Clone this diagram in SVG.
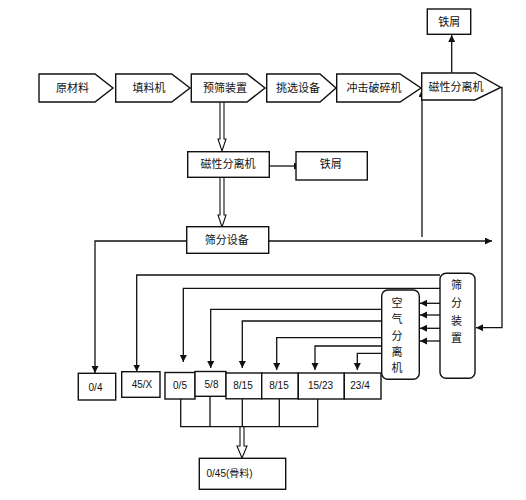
<svg xmlns="http://www.w3.org/2000/svg" width="526" height="500" viewBox="0 0 526 500">
<style>
.n{fill:#fff;stroke:#111;stroke-width:1.4}
.t{font-family:"Noto Sans CJK SC","Liberation Sans",sans-serif;font-size:11px;fill:#111;text-anchor:middle}
.d{font-family:"Liberation Sans","DejaVu Sans",sans-serif;font-size:10px;fill:#111;text-anchor:middle}
.c{fill:none;stroke:#111;stroke-width:1.3}
.h{fill:#fff;stroke:#111;stroke-width:1.1}
</style>
<defs>
<marker id="a" markerUnits="userSpaceOnUse" markerWidth="8" markerHeight="8" refX="7" refY="3.5" orient="auto"><path d="M0,0 L7,3.5 L0,7 z" fill="#111"/></marker>
</defs>
<rect width="526" height="500" fill="#fff"/>
<g id="connectors">
<path class="h" d="M220,102 V139 L218,139 L222,151 L226,139 L224,139 V102"/>
<path class="h" d="M220,177.5 V215 L218,215 L222,227 L226,215 L224,215 V177.5"/>
<path class="h" d="M240,427 V446 L237,446 L242,458 L247,446 L244,446 V427"/>
<path class="c" d="M269.3,166 H301" marker-end="url(#a)"/>
<path class="c" d="M451.7,72.7 V35" marker-end="url(#a)"/>
<path class="c" d="M422,237 V90" marker-end="url(#a)"/>
<path class="c" d="M268.7,241 H492" marker-end="url(#a)"/>
<path class="c" d="M186.7,241 H95 V373" marker-end="url(#a)"/>
<path class="c" d="M500.7,87.5 H502 V327.7 H476" marker-end="url(#a)"/>
<path class="c" d="M440,275 H136.7 V371.5" marker-end="url(#a)"/>
<path class="c" d="M440,288.3 H183.3 V362" marker-end="url(#a)"/>
<path class="c" d="M381.7,309.3 H210.7 V368" marker-end="url(#a)"/>
<path class="c" d="M381.7,321 H242.3 V368" marker-end="url(#a)"/>
<path class="c" d="M381.7,337.7 H276.7 V370" marker-end="url(#a)"/>
<path class="c" d="M381.7,346 H315 V370" marker-end="url(#a)"/>
<path class="c" d="M381.7,353.3 H357.3 V370" marker-end="url(#a)"/>
<path class="c" d="M440,303.3 H420" marker-end="url(#a)"/>
<path class="c" d="M440,315 H420" marker-end="url(#a)"/>
<path class="c" d="M440,328.3 H420" marker-end="url(#a)"/>
<path class="c" d="M440,341 H420" marker-end="url(#a)"/>
<path class="c" d="M180.7,399 V426.7 H317.7 V399 M210,396 V426.7 M242.3,398.5 V426.7 M279.3,398.5 V426.7"/>
</g>
<g id="n1"><polygon class="n" points="39,74 95,74 113,88 95,102 39,102"/><text class="t" x="72.5" y="92">原材料</text></g>
<g id="n2"><polygon class="n" points="115.7,74 171.7,74 190,88 171.7,102 115.7,102"/><text class="t" x="149" y="92">填料机</text></g>
<g id="n3"><polygon class="n" points="191.3,74 247,74 265,88 247,102 191.3,102"/><text class="t" x="225" y="92">预筛装置</text></g>
<g id="n4"><polygon class="n" points="266.7,74 320,74 336,88 320,102 266.7,102"/><text class="t" x="298" y="92">挑选设备</text></g>
<g id="n5"><polygon class="n" points="336.7,74 400,74 421,88 400,102 336.7,102"/><text class="t" x="374" y="92">冲击破碎机</text></g>
<g id="n6"><polygon class="n" points="421.7,73 475,73 500.7,87.5 475,100 421.7,100"/><text class="t" x="456" y="91">磁性分离机</text></g>
<g id="n7"><rect class="n" x="427.3" y="9" width="43.4" height="25.3"/><text class="t" x="449.3" y="26">铁屑</text></g>
<g id="n8"><rect class="n" x="187.7" y="151.7" width="81.6" height="25.6"/><text class="t" x="228" y="168">磁性分离机</text></g>
<g id="n9"><rect class="n" x="296" y="151.7" width="71.3" height="28.3"/><text class="t" x="330.7" y="168">铁屑</text></g>
<g id="n10"><rect class="n" x="186.7" y="226.7" width="82" height="26.6"/><text class="t" x="226.7" y="244">筛分设备</text></g>
<g id="n11"><rect class="n" x="440" y="273.3" width="35" height="105" rx="6"/><text class="t"><tspan x="456.5" y="289">筛</tspan><tspan x="456.5" y="307">分</tspan><tspan x="456.5" y="325">装</tspan><tspan x="456.5" y="342">置</tspan></text></g>
<g id="n12"><rect class="n" x="381.7" y="290" width="37.6" height="89.3" rx="6"/><text class="t"><tspan x="397" y="307">空</tspan><tspan x="397" y="323">气</tspan><tspan x="397" y="340">分</tspan><tspan x="397" y="356">离</tspan><tspan x="397" y="372">机</tspan></text></g>
<g id="b1"><rect class="n" x="78.3" y="373.3" width="37.4" height="26.7"/><text class="d" x="95.5" y="391">0/4</text></g>
<g id="b2"><rect class="n" x="121.7" y="371.7" width="38.3" height="25.6"/><text class="d" x="142" y="388">45/X</text></g>
<g id="b3"><rect class="n" x="165" y="372.5" width="30" height="26.5"/><text class="d" x="180" y="389">0/5</text></g>
<g id="b4"><rect class="n" x="195" y="371.5" width="31" height="24.8"/><text class="d" x="211.5" y="388">5/8</text></g>
<g id="b5"><rect class="n" x="226" y="373" width="35.7" height="25.8"/><text class="d" x="243" y="389">8/15</text></g>
<g id="b6"><rect class="n" x="261.7" y="373" width="36.6" height="25.8"/><text class="d" x="279" y="389">8/15</text></g>
<g id="b7"><rect class="n" x="298.3" y="373" width="46" height="26"/><text class="d" x="320.5" y="389">15/23</text></g>
<g id="b8"><rect class="n" x="344.3" y="373" width="36.7" height="26"/><text class="d" x="360" y="389">23/4</text></g>
<g id="b9"><rect class="n" x="199.3" y="458.3" width="86.4" height="31"/><text class="d" x="206.5" y="477" style="text-anchor:start">0/45(<tspan style="font-family:'Noto Sans CJK SC',sans-serif">骨料</tspan>)</text></g>
</svg>
